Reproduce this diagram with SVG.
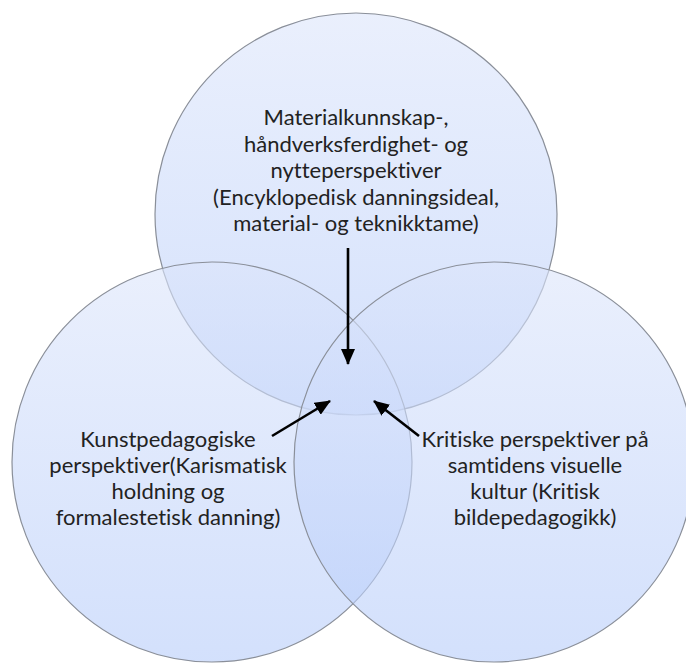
<svg xmlns="http://www.w3.org/2000/svg" width="686" height="663" viewBox="0 0 686 663">
<defs>
<linearGradient id="g" x1="0" y1="0" x2="0" y2="1">
<stop offset="0" stop-color="#dce5fb"/>
<stop offset="1" stop-color="#b6ccfa"/>
</linearGradient>
<marker id="ah" markerUnits="userSpaceOnUse" markerWidth="16" markerHeight="14" refX="15" refY="7" orient="auto">
<path d="M0,0 L16,7 L0,14 Z" fill="#000"/>
</marker>
</defs>
<style>
.c{fill:url(#g);fill-opacity:0.6;stroke:#8a8f99;stroke-width:1.2}
.t{font-family:Lato,"Liberation Sans",sans-serif;font-size:22px;fill:#222;text-anchor:middle;font-variant-ligatures:none}
.a{stroke:#000;stroke-width:2.6;fill:none;marker-end:url(#ah)}
</style>
<rect width="686" height="663" fill="#fff"/>
<g id="top">
<circle class="c" cx="356" cy="214" r="201"/>
<text class="t" x="356" y="125">Materialkunnskap-,</text>
<text class="t" x="356" y="152">håndverksferdighet- og</text>
<text class="t" x="356" y="178">nytteperspektiver</text>
<text class="t" x="356" y="205">(Encyklopedisk danningsideal,</text>
<text class="t" x="356" y="231">material- og teknikktame)</text>
</g>
<g id="left">
<circle class="c" cx="212" cy="462" r="200"/>
<text class="t" x="168" y="447">Kunstpedagogiske</text>
<text class="t" x="168" y="473">perspektiver(Karismatisk</text>
<text class="t" x="168" y="499">holdning og</text>
<text class="t" x="168" y="525">formalestetisk danning)</text>
</g>
<g id="right">
<circle class="c" cx="494" cy="462" r="200"/>
<text class="t" x="535" y="447">Kritiske perspektiver på</text>
<text class="t" x="535" y="473">samtidens visuelle</text>
<text class="t" x="535" y="499">kultur (Kritisk</text>
<text class="t" x="535" y="525">bildepedagogikk)</text>
</g>
<g id="connectors">
<line class="a" x1="348" y1="248" x2="348" y2="364"/>
<line class="a" x1="272" y1="436" x2="330" y2="401"/>
<line class="a" x1="419" y1="436" x2="374" y2="401"/>
</g>
</svg>
